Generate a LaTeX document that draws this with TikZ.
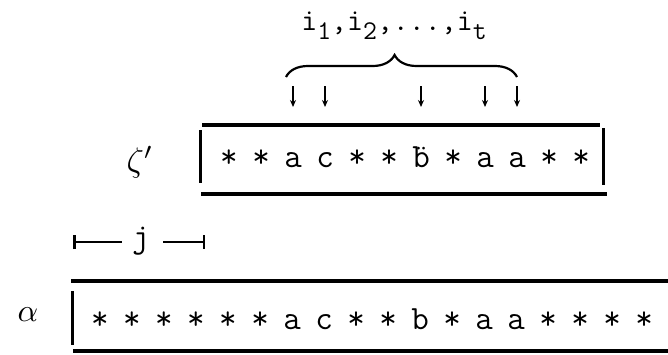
\documentclass[tikz,border=0pt]{standalone}
\usepackage{fontspec}
\usepackage{graphicx}
\usetikzlibrary{decorations.pathreplacing,arrows.meta}
\newcommand{\tsub}[1]{\raisebox{-9pt}{\fontsize{27}{28}\selectfont #1}}
\begin{document}
\begin{tikzpicture}[x=1pt,y=-1pt,
  tok/.style={font=\fontsize{34}{38}\selectfont\ttfamily, inner sep=0pt, anchor=base},
  rule/.style={line width=3.5pt},
  bar/.style={line width=3pt},
  arr/.style={line width=1.6pt,-{Stealth[length=7pt,width=6pt]}},
  lab/.style={inner sep=0pt}]
\useasboundingbox (0,0) rectangle (668,354);
% top label and brace
\node[tok, anchor=base] (lbl) at (394,30) {\fontsize{31}{34}\selectfont i\tsub{1},i\tsub{2},...,i\tsub{t}};
\coordinate (bl) at (286,77);
\coordinate (br) at (517,77);
\draw[line width=2.2pt, decorate, decoration={brace, amplitude=22pt, aspect=0.47}] (bl) -- (br);
% zeta' box
\node[lab] (zeta) at (140,162) {\scalebox{3.4}{$\zeta'$}};
\coordinate (ztl) at (202,125); \coordinate (ztr) at (600,125);
\coordinate (zbl) at (201,194); \coordinate (zbr) at (607,194);
\coordinate (zl1) at (200,130); \coordinate (zl2) at (200,183);
\coordinate (zr1) at (603,128); \coordinate (zr2) at (603,185);
\draw[rule] (ztl) -- (ztr);
\draw[rule] (zbl) -- (zbr);
\draw[bar] (zl1) -- (zl2);
\draw[bar] (zr1) -- (zr2);
\foreach \t [count=\k from 0] in {*,*,a,c,*,*,\"b,*,a,a,*,*}{
  \node[tok] (u\k) at (229+32*\k,167) {\t};
}
% arrows
\foreach \k in {2,3,6,8,9}{
  \coordinate (s\k) at (u\k |- 0,86);
  \coordinate (e\k) at (u\k |- 0,107);
  \draw[arr] (s\k) -- (e\k);
}
% j interval
\node[tok] (j) at (141,247) {j};
\coordinate (jl) at (73,242); \coordinate (jla) at (122,242);
\coordinate (jrb) at (163,242); \coordinate (jr) at (205,242);
\draw[line width=2.2pt, {Bar[width=14pt,line width=2.5pt]}-] (jl) -- (jla);
\draw[line width=2.2pt, -{Bar[width=14pt,line width=2.5pt]}] (jrb) -- (jr);
% alpha box
\node[lab] (alpha) at (28,315) {\scalebox{3.2}{$\alpha$}};
\coordinate (atl) at (71,281); \coordinate (atr) at (668,281);
\coordinate (abl) at (73,351); \coordinate (abr) at (668,351);
\coordinate (al1) at (72,291); \coordinate (al2) at (72,345);
\draw[rule] (atl) -- (atr);
\draw[rule] (abl) -- (abr);
\draw[bar] (al1) -- (al2);
\foreach \t [count=\k from 0] in {*,*,*,*,*,*,a,c,*,*,b,*,a,a,*,*,*,*}{
  \node[tok] (a\k) at (100+32*\k,329) {\t};
}
\end{tikzpicture}
\end{document}
